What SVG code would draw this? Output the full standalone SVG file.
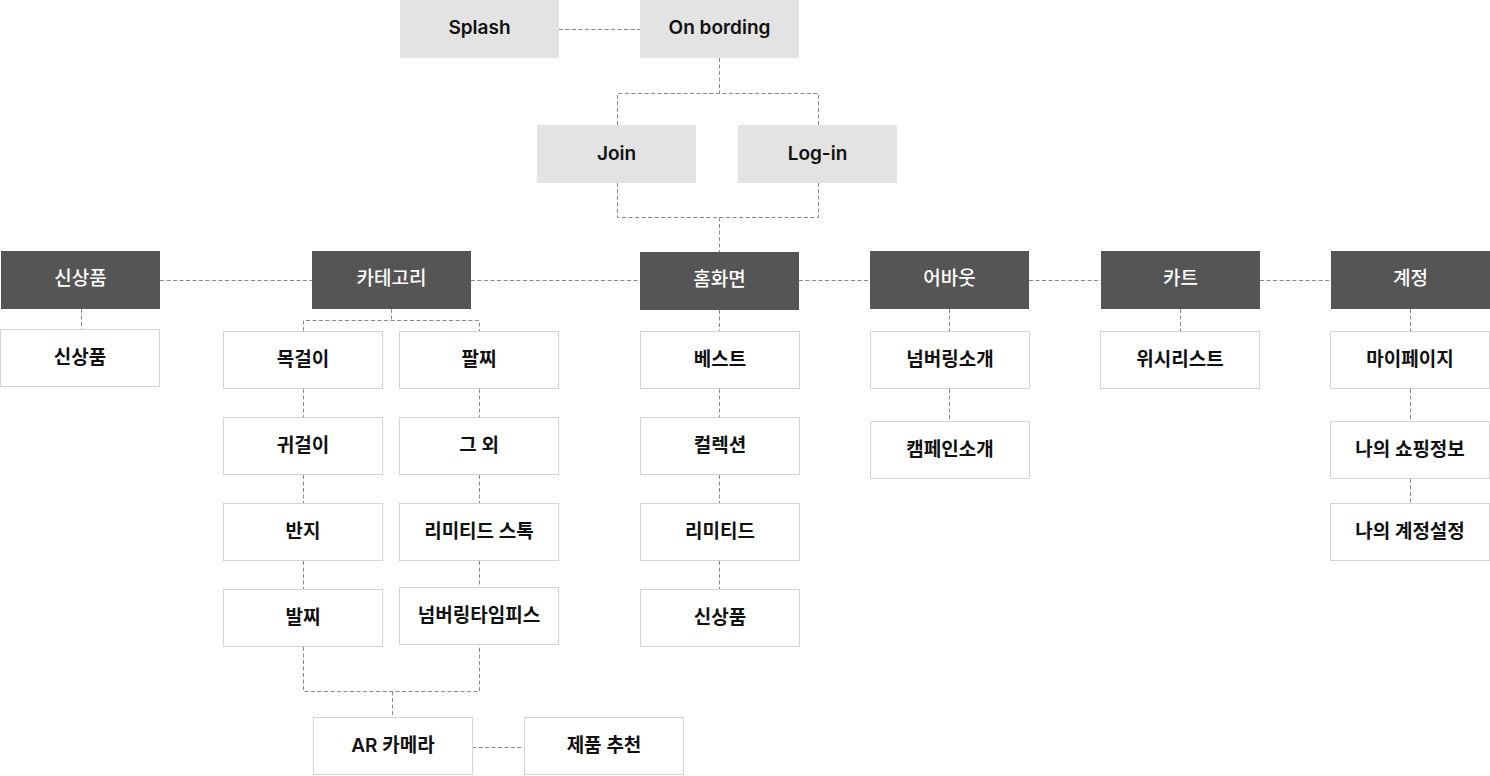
<svg xmlns="http://www.w3.org/2000/svg" width="1490" height="776" viewBox="0 0 1490 776">
<style>
.top rect{fill:#e3e3e3}
.dk rect{fill:#555555}
.lt rect{fill:#ffffff;stroke:#d4d4d4;stroke-width:1}
text{font-family:Inter,"Noto Sans CJK KR",sans-serif;font-size:19px;text-anchor:middle;dominant-baseline:central}
.top text,.lt text{fill:#111111;font-weight:600}
.dk text{fill:#ffffff;font-weight:500}
#connectors path{fill:none;stroke:#8a8a8a;stroke-width:1;stroke-dasharray:4 2.5}
</style>
<rect width="1490" height="776" fill="#ffffff"/>
<g id="connectors">
<path d="M559 29.5H640"/>
<path d="M719.5 58V93.5M617.5 125V93.5H818.5V125"/>
<path d="M617.5 183V217.5H818.5V183M719.5 217.5V252"/>
<path d="M160 280.5H312M471 280.5H640M799 280.5H870M1029 280.5H1101M1260 280.5H1331"/>
<path d="M81.5 309V329"/>
<path d="M391.5 309V320.5M303.5 331V320.5H479.5V331"/>
<path d="M303.5 389V417M303.5 475V503M303.5 561V589"/>
<path d="M479.5 389V417M479.5 475V503M479.5 561V587"/>
<path d="M303.5 647V691.5H479.5V645M392.5 691.5V717"/>
<path d="M472 747.5H524"/>
<path d="M719.5 310V331M719.5 389V417M719.5 475V503M719.5 561V589"/>
<path d="M949.5 309V331M949.5 389V421"/>
<path d="M1180.5 309V331"/>
<path d="M1410.5 309V331M1410.5 389V421M1410.5 479V503"/>
</g>
<g id="splash" class="top"><rect x="400" y="0" width="159" height="58"/><text x="479.5" y="27.5">Splash</text></g>
<g id="onbording" class="top"><rect x="640" y="0" width="159" height="58"/><text x="719.5" y="27.5">On bording</text></g>
<g id="join" class="top"><rect x="537" y="125" width="159" height="58"/><text x="616.5" y="153">Join</text></g>
<g id="login" class="top"><rect x="738" y="125" width="159" height="58"/><text x="817.5" y="153">Log-in</text></g>

<g id="new" class="dk"><rect x="1" y="251" width="159" height="58"/><text x="80.5" y="278.5">신상품</text></g>
<g id="category" class="dk"><rect x="312" y="251" width="159" height="58"/><text x="391.5" y="278.5">카테고리</text></g>
<g id="home" class="dk"><rect x="640" y="252" width="159" height="58"/><text x="719.5" y="279.5">홈화면</text></g>
<g id="about" class="dk"><rect x="870" y="251" width="159" height="58"/><text x="949.5" y="278.5">어바웃</text></g>
<g id="cart" class="dk"><rect x="1101" y="251" width="159" height="58"/><text x="1180.5" y="278.5">카트</text></g>
<g id="account" class="dk"><rect x="1331" y="251" width="159" height="58"/><text x="1410.5" y="278.5">계정</text></g>

<g id="new-1" class="lt"><rect x="0.5" y="329.5" width="159" height="57"/><text x="80" y="357">신상품</text></g>

<g id="cat-necklace" class="lt"><rect x="223.5" y="331.5" width="159" height="57"/><text x="303" y="359">목걸이</text></g>
<g id="cat-earring" class="lt"><rect x="223.5" y="417.5" width="159" height="57"/><text x="303" y="445">귀걸이</text></g>
<g id="cat-ring" class="lt"><rect x="223.5" y="503.5" width="159" height="57"/><text x="303" y="531">반지</text></g>
<g id="cat-anklet" class="lt"><rect x="223.5" y="589.5" width="159" height="57"/><text x="303" y="617">발찌</text></g>
<g id="cat-bracelet" class="lt"><rect x="399.5" y="331.5" width="159" height="57"/><text x="479" y="359">팔찌</text></g>
<g id="cat-etc" class="lt"><rect x="399.5" y="417.5" width="159" height="57"/><text x="479" y="445">그 외</text></g>
<g id="cat-limited" class="lt"><rect x="399.5" y="503.5" width="159" height="57"/><text x="479" y="531">리미티드 스톡</text></g>
<g id="cat-timepiece" class="lt"><rect x="399.5" y="587.5" width="159" height="57"/><text x="479" y="615">넘버링타임피스</text></g>
<g id="ar" class="lt"><rect x="313.5" y="717.5" width="159" height="57"/><text x="393" y="745">AR 카메라</text></g>
<g id="recommend" class="lt"><rect x="524.5" y="717.5" width="159" height="57"/><text x="604" y="745">제품 추천</text></g>

<g id="home-best" class="lt"><rect x="640.5" y="331.5" width="159" height="57"/><text x="720" y="359">베스트</text></g>
<g id="home-collection" class="lt"><rect x="640.5" y="417.5" width="159" height="57"/><text x="720" y="445">컬렉션</text></g>
<g id="home-limited" class="lt"><rect x="640.5" y="503.5" width="159" height="57"/><text x="720" y="531">리미티드</text></g>
<g id="home-new" class="lt"><rect x="640.5" y="589.5" width="159" height="57"/><text x="720" y="617">신상품</text></g>

<g id="about-numbering" class="lt"><rect x="870.5" y="331.5" width="159" height="57"/><text x="950" y="359">넘버링소개</text></g>
<g id="about-campaign" class="lt"><rect x="870.5" y="421.5" width="159" height="57"/><text x="950" y="449">캠페인소개</text></g>

<g id="cart-wish" class="lt"><rect x="1100.5" y="331.5" width="159" height="57"/><text x="1180" y="359">위시리스트</text></g>

<g id="acc-mypage" class="lt"><rect x="1330.5" y="331.5" width="159" height="57"/><text x="1410" y="359">마이페이지</text></g>
<g id="acc-shopping" class="lt"><rect x="1330.5" y="421.5" width="159" height="57"/><text x="1410" y="449">나의 쇼핑정보</text></g>
<g id="acc-settings" class="lt"><rect x="1330.5" y="503.5" width="159" height="57"/><text x="1410" y="531">나의 계정설정</text></g>
</svg>
